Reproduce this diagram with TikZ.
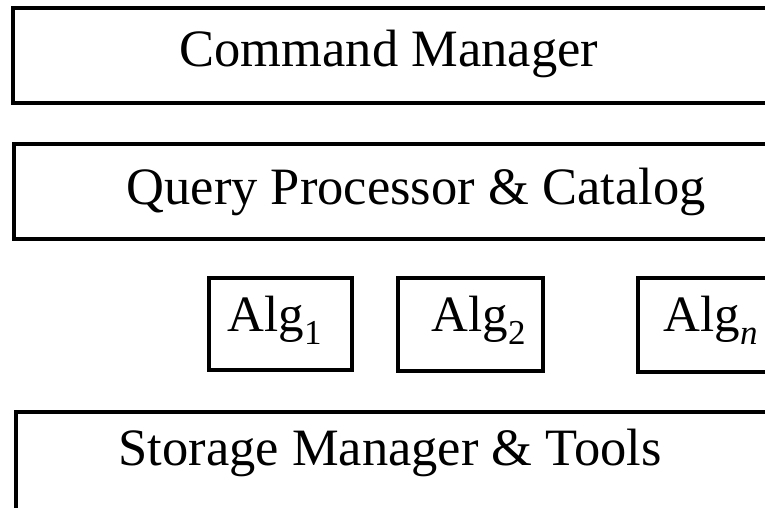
\documentclass[tikz,border=0pt]{standalone}
\usepackage{fontspec}
\setmainfont{Liberation Serif}

% subscript of the algorithm boxes
\newcommand{\algsub}[1]{\raisebox{-13pt}{\fontsize{35}{38}\selectfont #1}}

\begin{document}
\begin{tikzpicture}[x=1pt, y=-1pt, line width=3.3pt,
    layer/.style={draw, rectangle, inner sep=0pt, outer sep=0pt, anchor=north west},
    lbl/.style={inner sep=0pt, anchor=base west, font=\fontsize{52.5}{60}\selectfont},
    alglbl/.style={lbl, font=\fontsize{51}{56}\selectfont}]
\useasboundingbox (0,0) rectangle (765,507);
\clip (0,0) rectangle (765,507);

% draw the layers, they run off the right edge
\node[layer, minimum width=800pt, minimum height=95pt]  (cmd) at (13,8)   {};
\node[lbl] (cmdtxt) at (178,66) {Command Manager};

\node[layer, minimum width=800pt, minimum height=95pt]  (qp)  at (14,144) {};
\node[lbl] (qptxt) at (125,204.5) {Query Processor \& Catalog};

% the algorithm boxes
\node[layer, minimum width=143pt, minimum height=92pt]  (alg1) at (209,278) {};
\node[alglbl] (alg1txt) at (226,331) {Alg\algsub{1}};

\node[layer, minimum width=145pt, minimum height=93pt]  (alg2) at (398,278) {};
\node[alglbl] (alg2txt) at (430,331) {Alg\algsub{2}};

\node[layer, minimum width=145pt, minimum height=94pt]  (algn) at (638,278) {};
\node[alglbl] (algntxt) at (662,331) {Alg\algsub{\textit{n}}};

% bottom layer, runs off the bottom too
\node[layer, minimum width=800pt, minimum height=120pt] (sm)  at (16,412) {};
\node[lbl] (smtxt) at (117,465) {Storage Manager \& Tools};

\end{tikzpicture}
\end{document}
